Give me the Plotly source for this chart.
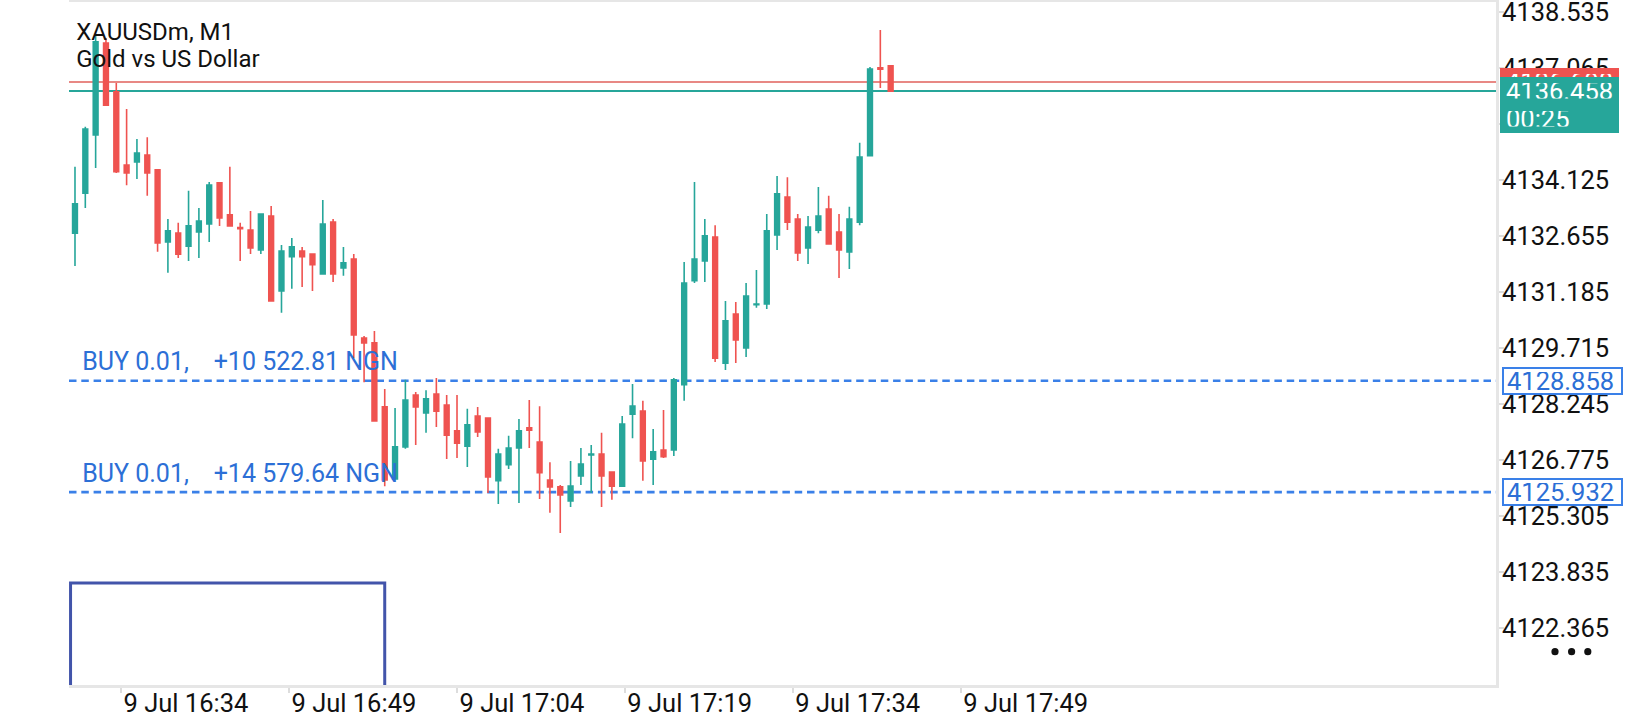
import plotly.graph_objects as go

# ---- data (XAUUSDm, M1) ----
bar_open = [4132.73, 4133.78, 4135.31, 4137.72, 4136.44, 4134.52, 4134.60, 4134.78, 4134.39, 4132.50,
            4132.73, 4132.39, 4132.76, 4132.97, 4134.05, 4133.21, 4132.88, 4132.81, 4132.29, 4133.18,
            4131.21, 4132.11, 4132.26, 4132.18, 4131.66, 4133.02, 4131.82, 4132.05, 4129.98, 4129.85,
            4128.17, 4126.28, 4127.12, 4128.48, 4128.01, 4128.51, 4128.22, 4127.54, 4127.14, 4127.93,
            4127.88, 4126.23, 4126.65, 4127.09, 4127.62, 4127.25, 4126.25, 4126.07, 4125.70, 4126.36,
            4126.91, 4126.93, 4126.46, 4126.09, 4127.98, 4128.06, 4126.80, 4127.04, 4127.04, 4128.75,
            4131.48, 4132.00, 4132.63, 4129.32, 4130.61, 4129.72, 4130.85, 4130.87, 4132.68, 4133.68,
            4133.10, 4132.34, 4132.81, 4133.36, 4132.76, 4132.24, 4133.02, 4134.76, 4137.07, 4137.12]
bar_high = [4134.47, 4135.52, 4137.93, 4137.85, 4136.67, 4135.99, 4135.20, 4135.25, 4134.41, 4133.10,
            4133.00, 4133.84, 4133.39, 4134.07, 4134.05, 4134.47, 4133.00, 4133.31, 4133.23, 4133.44,
            4132.42, 4132.60, 4132.37, 4132.18, 4133.60, 4133.10, 4132.37, 4132.18, 4130.03, 4130.16,
            4128.64, 4128.14, 4128.88, 4128.56, 4128.61, 4128.93, 4128.48, 4128.48, 4128.12, 4128.17,
            4127.88, 4127.07, 4127.41, 4127.85, 4128.35, 4128.19, 4126.72, 4126.12, 4126.75, 4127.09,
            4127.17, 4127.49, 4126.46, 4127.93, 4128.77, 4128.33, 4127.59, 4128.09, 4128.93, 4131.97,
            4134.07, 4133.10, 4132.94, 4130.95, 4130.92, 4131.42, 4131.76, 4133.23, 4134.23, 4134.20,
            4133.23, 4133.18, 4133.94, 4133.71, 4133.23, 4133.42, 4135.10, 4137.09, 4138.06, 4137.12]
bar_low = [4131.87, 4133.39, 4134.44, 4136.07, 4134.31, 4133.99, 4134.15, 4133.71, 4132.24, 4131.69,
           4132.08, 4132.00, 4132.08, 4132.50, 4132.92, 4132.92, 4132.00, 4132.18, 4132.18, 4130.95,
           4130.64, 4131.27, 4131.32, 4131.21, 4131.66, 4131.45, 4131.61, 4129.45, 4128.82, 4127.80,
           4126.09, 4126.28, 4127.07, 4127.17, 4127.49, 4127.64, 4126.80, 4126.83, 4126.59, 4127.38,
           4125.91, 4125.62, 4126.54, 4125.65, 4127.09, 4125.75, 4125.39, 4124.86, 4125.54, 4126.12,
           4125.91, 4125.54, 4125.73, 4126.09, 4127.35, 4126.23, 4126.12, 4126.83, 4126.88, 4128.33,
           4131.42, 4131.45, 4129.35, 4129.14, 4129.32, 4129.48, 4130.77, 4130.74, 4132.29, 4132.81,
           4132.00, 4131.92, 4132.73, 4132.45, 4131.55, 4131.79, 4132.94, 4134.76, 4136.54, 4136.46]
bar_close = [4133.50, 4135.46, 4137.75, 4136.09, 4134.34, 4134.31, 4134.83, 4134.31, 4132.47, 4132.79,
             4132.18, 4132.92, 4133.05, 4133.99, 4133.13, 4132.92, 4132.85, 4132.34, 4133.23, 4130.95,
             4132.26, 4132.37, 4132.11, 4131.90, 4132.97, 4131.66, 4131.95, 4130.06, 4129.85, 4127.80,
             4126.25, 4127.12, 4128.35, 4128.17, 4128.38, 4128.06, 4127.43, 4127.22, 4127.70, 4127.51,
             4126.33, 4126.93, 4127.09, 4127.54, 4127.56, 4126.44, 4126.07, 4125.86, 4126.09, 4126.67,
             4126.93, 4126.36, 4126.09, 4127.72, 4128.19, 4126.75, 4126.99, 4126.86, 4128.88, 4131.42,
             4132.05, 4132.66, 4129.45, 4130.43, 4129.93, 4131.08, 4130.87, 4132.79, 4133.76, 4133.02,
             4132.21, 4132.89, 4133.18, 4132.45, 4132.29, 4133.10, 4134.73, 4137.04, 4137.03, 4136.458]
bar_index = list(range(len(bar_close)))

symbol_title = ["XAUUSDm, M1", "Gold vs US Dollar"]
time_labels = ["9 Jul 16:34", "9 Jul 16:49", "9 Jul 17:04", "9 Jul 17:19", "9 Jul 17:34", "9 Jul 17:49"]
time_label_bars = [4.48, 20.75, 37.02, 53.28, 69.55, 85.82]
price_ticks = [4122.365, 4123.835, 4125.305, 4126.775, 4128.245, 4129.715,
               4131.185, 4132.655, 4134.125, 4135.595, 4137.065, 4138.535]

bid_price = 4136.458
ask_price = 4136.698
timer_text = "00:25"
order_prices = [4128.858, 4125.932]
order_texts = ["BUY 0.01,    +10 522.81 NGN", "BUY 0.01,    +14 579.64 NGN"]
box_bars = 30.0
box_price = 4123.548

# ---- styling ----
GREEN = "#26a69a"
RED = "#ef5350"
ASK_RED = "#e0605b"
BLUE = "#3a80e8"
BLUE_TEXT = "#2c6fd6"
FRAME = "#e6e6e6"
FONT = "Roboto"
AXIS_FONT = 25.5

x_range = [-0.58, 137.63]
y_range = [4120.871, 4138.797]

fig = go.Figure()

# chart title (drawn under the candles)
fig.add_trace(go.Scatter(
    x=[0.12, 0.12], y=[4137.952, 4137.236], text=symbol_title,
    mode="text", textposition="middle right",
    textfont=dict(family=FONT, size=24, color="#111111"),
    hoverinfo="skip", showlegend=False, cliponaxis=False,
))

# order labels above the dashed lines
fig.add_trace(go.Scatter(
    x=[0.7, 0.7], y=[p + 0.433 for p in order_prices], text=order_texts,
    mode="text", textposition="middle right",
    textfont=dict(family=FONT, size=25, color=BLUE_TEXT),
    hoverinfo="skip", showlegend=False, cliponaxis=False,
))

fig.add_trace(go.Candlestick(
    x=bar_index, open=bar_open, high=bar_high, low=bar_low, close=bar_close,
    increasing=dict(line=dict(color=GREEN, width=1.6), fillcolor=GREEN),
    decreasing=dict(line=dict(color=RED, width=1.6), fillcolor=RED),
    whiskerwidth=0, showlegend=False, hoverinfo="skip",
))

# bid / ask lines
fig.add_shape(type="line", xref="paper", x0=0, x1=1, y0=ask_price, y1=ask_price,
              line=dict(color=ASK_RED, width=1.6), layer="below")
fig.add_shape(type="line", xref="paper", x0=0, x1=1, y0=bid_price, y1=bid_price,
              line=dict(color=GREEN, width=2), layer="below")

# open orders
for p in order_prices:
    fig.add_shape(type="line", xref="paper", x0=0, x1=1, y0=p, y1=p,
                  line=dict(color=BLUE, width=2.6, dash="7.5px,4.8px"), layer="below")

# rectangle in lower-left corner
fig.add_shape(type="rect", x0=x_range[0] + 0.15, x1=box_bars, y0=y_range[0] - 1, y1=box_price,
              line=dict(color="#4254aa", width=3), fillcolor="rgba(0,0,0,0)", layer="above")

# "more" dots at the bottom right
for px in [1555, 1571.6, 1587.8]:
    cx = (px - 69) / 1427
    cy = (685 - 651.7) / 683
    fig.add_shape(type="circle", xref="paper", yref="paper",
                  x0=cx - 3.6 / 1427, x1=cx + 3.6 / 1427, y0=cy - 3.6 / 683, y1=cy + 3.6 / 683,
                  fillcolor="#111111", line=dict(width=0))

# price tags on the right axis: ask (red) under bid (green) + countdown
tag = dict(xref="paper", x=1, xshift=4, xanchor="left", yanchor="middle", showarrow=False,
           align="left", font=dict(family=FONT, size=AXIS_FONT, color="white"),
           borderpad=6, borderwidth=0, width=107, height=15.5)
fig.add_annotation(y=ask_price, text=f"{ask_price:.3f}", bgcolor=RED, **tag)
fig.add_annotation(y=bid_price, text=f"{bid_price:.3f}", bgcolor=GREEN, **tag)
fig.add_annotation(y=bid_price, yshift=-27.5, text=timer_text, bgcolor=GREEN, **tag)

for p in order_prices:
    fig.add_annotation(xref="paper", x=1, xshift=6, xanchor="left", y=p, yanchor="middle",
                       text=f"{p:.3f}", showarrow=False, align="left",
                       font=dict(family=FONT, size=AXIS_FONT, color=BLUE_TEXT),
                       bgcolor="white", bordercolor=BLUE, borderwidth=2, borderpad=3,
                       width=110.5, height=18)

fig.update_layout(
    width=1640, height=720,
    margin=dict(l=69, r=144, t=2, b=35, autoexpand=False),
    paper_bgcolor="white", plot_bgcolor="white",
    boxgap=0.54, boxgroupgap=0,
    font=dict(family=FONT, size=24, color="#111111"),
    showlegend=False,
    xaxis=dict(
        range=x_range, tickvals=time_label_bars, ticktext=time_labels,
        ticks="outside", ticklen=5, tickwidth=1.5, tickcolor="#dddddd",
        ticklabelposition="outside right", ticklabelstandoff=-7,
        automargin=False, ticklabeloverflow="allow",
        tickfont=dict(family=FONT, size=AXIS_FONT, color="#111111"),
        showline=True, linecolor=FRAME, linewidth=3, mirror=True,
        showgrid=False, zeroline=False, rangeslider=dict(visible=False), fixedrange=True,
    ),
    yaxis=dict(
        range=y_range, side="right", tickvals=price_ticks, tickformat=".3f",
        ticks="outside", ticklen=5, tickwidth=1.5, tickcolor="#dddddd", ticklabelstandoff=-7,
        automargin=False, ticklabeloverflow="allow",
        tickfont=dict(family=FONT, size=AXIS_FONT, color="#111111"),
        showline=True, linecolor=FRAME, linewidth=3,
        showgrid=False, zeroline=False, fixedrange=True,
    ),
)

# page without the default body margin so the figure sits at the window's corner
fig.write_html("out.html", config={"displayModeBar": False},
               post_script="document.body.style.margin = '0px';")
